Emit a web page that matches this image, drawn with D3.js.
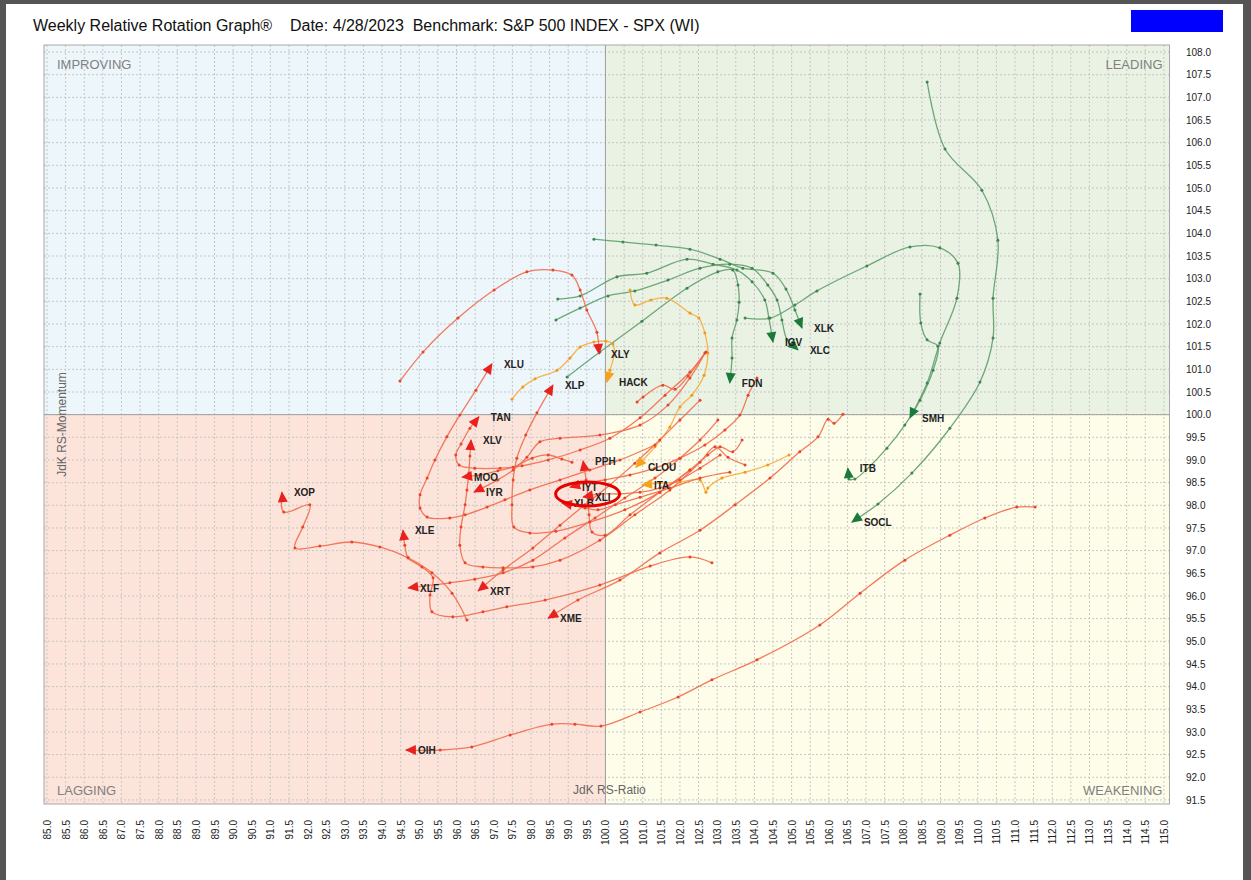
<!DOCTYPE html>
<html>
<head>
<meta charset="utf-8">
<script src="https://cdn.jsdelivr.net/npm/d3@7"></script>
<style>
  body { margin: 0; background: #fff; }
  svg { display: block; font-family: "Liberation Sans", Arial, sans-serif; }
</style>
</head>
<body>
<svg id="chart" width="1251" height="880"></svg>
<script>
// weekly tails as [JdK RS-Ratio, JdK RS-Momentum], oldest first, last point = current week
const XLK = [[99.69,103.87],[100.47,103.81],[101.36,103.74],[102.27,103.65],[103.08,103.43],[103.69,103.23],[104.50,103.12],[104.85,102.77],[105.09,102.31],[105.28,101.91]];
const IGV = [[98.72,102.55],[99.32,102.62],[100.31,103.04],[101.11,103.12],[102.19,103.43],[102.89,103.32],[103.53,103.19],[103.94,102.93],[104.28,102.53],[104.39,102.13],[104.50,101.60]];
const XLC = [[98.67,102.09],[99.32,102.35],[100.07,102.62],[100.79,102.73],[101.68,102.97],[102.54,103.23],[103.34,103.32],[103.94,103.23],[104.36,102.86],[104.61,102.53],[104.74,102.09],[104.88,101.65],[105.17,101.43]];
const FDN = [[98.97,100.83],[99.85,101.38],[100.98,102.06],[102.19,102.79],[103.02,103.15],[103.42,103.19],[103.56,102.86],[103.59,102.48],[103.53,102.09],[103.40,101.69],[103.40,101.25],[103.34,100.70]];
const SMH = [[103.75,102.13],[104.42,102.13],[105.09,102.42],[105.68,102.73],[107.02,103.28],[108.18,103.70],[108.98,103.68],[109.47,103.34],[109.44,102.57],[108.98,101.58],[108.64,100.70],[108.18,99.93]];
const ITB = [[108.45,102.66],[108.47,102.02],[108.64,101.65],[108.93,101.51],[108.80,100.98],[108.45,100.32],[108.04,99.77],[107.56,99.26],[107.00,98.78],[106.70,98.58],[106.54,98.58],[106.51,98.82]];
const SOCL = [[108.64,107.34],[109.12,105.86],[110.11,104.95],[110.54,103.85],[110.41,102.57],[110.41,101.69],[110.06,100.72],[109.25,99.70],[108.23,98.71],[107.32,98.03],[106.62,97.63]];

const HACK = [[97.49,100.34],[97.78,100.61],[98.11,100.79],[98.70,100.98],[99.05,101.25],[99.32,101.49],[99.69,101.60],[100.01,101.62],[100.20,101.56],[100.23,101.31],[100.12,100.98],[100.04,100.72]];
const CLOU = [[100.66,102.75],[100.79,102.42],[101.22,102.53],[101.65,102.57],[102.27,102.24],[102.51,102.13],[102.67,101.80],[102.75,101.36],[102.65,100.87],[102.32,100.43],[102.00,100.17],[101.73,99.73],[101.33,99.29],[100.82,98.84]];
const ITA = [[104.93,99.11],[104.36,98.89],[103.75,98.73],[103.13,98.60],[102.75,98.38],[102.70,98.29],[102.54,98.56],[102.00,98.51],[101.46,98.49],[100.98,98.45]];

const XLY = [[94.48,100.74],[95.10,101.38],[96.04,102.13],[97.01,102.75],[97.89,103.15],[98.59,103.19],[99.10,103.08],[99.32,102.75],[99.50,102.31],[99.77,101.82],[99.83,101.34]];
const XLU = [[101.33,99.33],[100.39,99.00],[99.58,98.78],[98.78,98.56],[97.97,98.34],[97.30,98.12],[96.82,97.96],[96.23,97.79],[95.82,97.72],[95.21,97.74],[95.02,97.94],[95.02,98.23],[95.21,98.60],[95.42,99.00],[95.74,99.51],[96.09,99.99],[96.52,100.54],[96.95,101.12]];
const XLP = [[102.27,98.78],[101.46,98.29],[100.52,97.90],[99.58,97.63],[98.67,97.43],[97.97,97.39],[97.54,97.52],[97.49,98.01],[97.52,98.56],[97.62,99.04],[97.86,99.55],[98.16,100.04],[98.59,100.65]];
const TAN = [[102.70,101.38],[102.27,100.94],[101.60,100.43],[100.93,99.93],[100.12,99.48],[99.32,99.22],[98.46,99.00],[97.76,98.87],[97.17,98.82],[96.49,98.82],[96.07,98.89],[95.98,99.11],[96.12,99.35],[96.36,99.70],[96.60,99.95]];
const XLV = [[103.75,98.89],[103.29,99.06],[102.94,99.29],[102.54,98.95],[101.73,98.34],[100.79,97.79],[99.85,97.23],[98.78,96.79],[98.05,96.64],[97.25,96.62],[96.71,96.64],[96.23,96.73],[96.09,97.12],[96.12,97.52],[96.23,98.01],[96.28,98.34],[96.33,98.71],[96.36,99.09],[96.39,99.44]];
const MOO = [[99.10,98.95],[98.83,99.02],[98.46,99.11],[98.03,99.04],[97.52,98.84],[97.11,98.76],[96.63,98.67],[96.15,98.62]];
const IYR = [[100.85,100.28],[101.01,100.39],[101.54,100.65],[101.87,100.56],[102.22,100.85],[102.67,101.36],[102.27,100.81],[101.68,100.21],[100.93,99.77],[99.85,99.55],[98.78,99.48],[98.24,99.40],[97.89,99.06],[97.52,98.78],[97.11,98.56],[96.47,98.29]];
const PPH = [[103.67,99.44],[103.42,99.18],[103.08,99.29],[102.75,99.11],[102.27,98.78],[101.46,98.29],[100.66,97.79],[99.99,97.34],[99.64,97.41],[99.56,97.79],[99.53,98.18],[99.48,98.56],[99.40,98.98]];
const IYT = [[104.07,100.81],[103.83,100.43],[103.61,99.99],[103.21,99.66],[102.67,99.33],[102.00,99.04],[101.33,98.82],[100.66,98.67],[99.99,98.56],[99.45,98.49],[99.05,98.40]];
const XLB = [[103.34,98.73],[102.54,98.60],[101.73,98.38],[100.93,98.18],[100.26,98.01],[99.80,97.90],[99.45,97.94],[99.10,98.01],[98.83,98.05]];
const XLI = [[103.08,99.11],[102.54,98.82],[102.00,98.56],[101.46,98.38],[100.93,98.29],[100.39,98.25],[99.85,98.25],[99.40,98.18]];
const XRT = [[102.54,100.32],[102.00,99.88],[101.46,99.44],[100.79,98.93],[100.12,98.45],[99.45,98.01],[98.78,97.56],[98.05,97.06],[97.25,96.57],[96.58,96.11]];
const XLF = [[103.02,99.88],[102.54,99.44],[102.00,99.04],[101.33,98.60],[100.52,98.16],[99.72,97.72],[98.91,97.28],[98.05,96.79],[97.25,96.51],[96.49,96.37],[95.82,96.29],[94.70,96.18]];
const XME = [[106.38,100.01],[106.14,99.81],[105.98,99.90],[105.71,99.51],[105.22,99.18],[104.42,98.60],[103.48,98.01],[102.54,97.45],[101.46,96.95],[100.39,96.35],[99.26,95.91],[98.46,95.51]];
const XLE = [[102.86,96.73],[102.27,96.86],[101.20,96.66],[99.85,96.24],[98.38,95.91],[97.35,95.76],[96.71,95.65],[95.90,95.54],[95.34,95.65],[95.29,96.02],[95.37,96.40],[95.07,96.64],[94.70,96.84],[94.61,97.12],[94.56,97.45]];
const XOP = [[96.28,95.47],[95.88,96.06],[95.34,96.51],[94.70,96.84],[93.94,97.08],[93.19,97.19],[92.33,97.10],[91.66,97.06],[91.87,97.52],[92.06,98.01],[91.36,97.85],[91.31,98.29]];
const OIH = [[111.54,97.96],[111.05,97.96],[110.19,97.72],[109.25,97.34],[108.04,96.79],[106.84,96.06],[105.76,95.36],[104.07,94.59],[102.86,94.15],[101.95,93.77],[100.93,93.44],[99.88,93.13],[99.18,93.17],[98.56,93.17],[97.44,92.93],[96.41,92.67],[95.56,92.60],[94.64,92.60]];

const greenNames = ["XLK", "IGV", "XLC", "FDN", "SMH", "ITB", "SOCL"];
const orangeNames = ["HACK", "CLOU", "ITA"];
const redNames = ["XLY", "XLU", "XLP", "TAN", "XLV", "MOO", "IYR", "PPH", "IYT", "XLB", "XLI", "XRT", "XLF", "XME", "XLE", "XOP", "OIH"];

// axis extents and ticks
const ratioDomain = [84.92, 115.15];
const momentumDomain = [91.41, 108.155];
const ratioTicks = d3.range(85, 115.001, 0.5);
const momentumTicks = d3.range(91.5, 108.001, 0.5);
const circled = [99.52, 98.25]; // highlight ellipse around IYT / XLI / XLB

const tails = { XLK, IGV, XLC, FDN, SMH, ITB, SOCL, HACK, CLOU, ITA,
  XLY, XLU, XLP, TAN, XLV, MOO, IYR, PPH, IYT, XLB, XLI, XRT, XLF, XME, XLE, XOP, OIH };

const palette = {
  green:  { line: "#5f9f6c", dot: "#3f8650", head: "#1b7a3a" },
  orange: { line: "#f6ad3c", dot: "#f09a1a", head: "#f7a11c" },
  red:    { line: "#f26b4c", dot: "#e8452e", head: "#e8201e" }
};

const series = []
  .concat(greenNames.map(n => ({ name: n, tone: "green" })))
  .concat(orangeNames.map(n => ({ name: n, tone: "orange" })))
  .concat(redNames.map(n => ({ name: n, tone: "red" })))
  .map(s => ({ ...s, pts: tails[s.name] }));

const svg = d3.select("#chart");

// page frame
svg.append("rect").attr("width", 1251).attr("height", 880).attr("fill", "#555");
svg.append("rect").attr("x", 6).attr("y", 4).attr("width", 1237).attr("height", 876).attr("fill", "#fff");

svg.append("text")
  .attr("x", 33).attr("y", 31)
  .attr("font-size", 16).attr("fill", "#111")
  .attr("xml:space", "preserve")
  .text("Weekly Relative Rotation Graph\u00AE    Date: 4/28/2023  Benchmark: S&P 500 INDEX - SPX (WI)");

svg.append("rect").attr("x", 1131).attr("y", 10).attr("width", 92).attr("height", 22).attr("fill", "#0000ff");

const x = d3.scaleLinear().domain(ratioDomain).range([44, 1169.5]);
const y = d3.scaleLinear().domain(momentumDomain).range([804, 45]);

const plot = svg.append("g");
const x0 = x(ratioDomain[0]), x1 = x(ratioDomain[1]);
const y0 = y(momentumDomain[1]), y1 = y(momentumDomain[0]);
const xm = x(100), ym = y(100);

// quadrants
const quads = [
  { x: x0, y: y0, w: xm - x0, h: ym - y0, fill: "#edf6fb" },
  { x: xm, y: y0, w: x1 - xm, h: ym - y0, fill: "#eaf2e4" },
  { x: x0, y: ym, w: xm - x0, h: y1 - ym, fill: "#fce4da" },
  { x: xm, y: ym, w: x1 - xm, h: y1 - ym, fill: "#fefde9" }
];
plot.selectAll("rect.quad").data(quads).join("rect")
  .attr("class", "quad")
  .attr("x", d => d.x).attr("y", d => d.y).attr("width", d => d.w).attr("height", d => d.h)
  .attr("fill", d => d.fill);

// dashed grid
plot.selectAll("line.vg").data(ratioTicks).join("line")
  .attr("class", "vg")
  .attr("x1", d => x(d)).attr("x2", d => x(d)).attr("y1", y0).attr("y2", y1)
  .attr("stroke", "#c6c6c6").attr("stroke-dasharray", "2,2");
plot.selectAll("line.hg").data(momentumTicks).join("line")
  .attr("class", "hg")
  .attr("y1", d => y(d)).attr("y2", d => y(d)).attr("x1", x0).attr("x2", x1)
  .attr("stroke", "#c6c6c6").attr("stroke-dasharray", "2,2");

plot.append("line").attr("x1", xm).attr("x2", xm).attr("y1", y0).attr("y2", y1).attr("stroke", "#a0a0a0");
plot.append("line").attr("x1", x0).attr("x2", x1).attr("y1", ym).attr("y2", ym).attr("stroke", "#a0a0a0");
plot.append("rect").attr("x", x0).attr("y", y0).attr("width", x1 - x0).attr("height", y1 - y0)
  .attr("fill", "none").attr("stroke", "#a8a8a8");

// quadrant names and axis titles
const qText = [
  { t: "IMPROVING", x: x0 + 13, y: y0 + 24, a: "start" },
  { t: "LEADING", x: x1 - 7, y: y0 + 24, a: "end" },
  { t: "LAGGING", x: x0 + 13, y: y1 - 9, a: "start" },
  { t: "WEAKENING", x: x1 - 7, y: y1 - 9, a: "end" }
];
plot.selectAll("text.q").data(qText).join("text")
  .attr("class", "q")
  .attr("x", d => d.x).attr("y", d => d.y).attr("text-anchor", d => d.a)
  .attr("font-size", 13).attr("fill", "#808080")
  .text(d => d.t);

plot.append("text").attr("x", xm + 4).attr("y", y1 - 10).attr("text-anchor", "middle")
  .attr("font-size", 12).attr("fill", "#666").text("JdK RS-Ratio");
plot.append("text").attr("transform", `translate(${x0 + 22},${(y0 + y1) / 2}) rotate(-90)`)
  .attr("text-anchor", "middle").attr("font-size", 12).attr("fill", "#666").text("JdK RS-Momentum");

// axes
const yAxis = svg.append("g").attr("transform", "translate(1186,0)")
  .call(d3.axisRight(y).tickValues(momentumTicks).tickFormat(d3.format(".1f")).tickSize(0).tickPadding(0));
yAxis.select(".domain").remove();
yAxis.selectAll("text").attr("font-size", 10).attr("fill", "#222").attr("font-family", null);

const xAxis = svg.append("g").attr("transform", "translate(0,820)")
  .call(d3.axisBottom(x).tickValues(ratioTicks).tickFormat(d3.format(".1f")).tickSize(0));
xAxis.select(".domain").remove();
xAxis.selectAll("text")
  .attr("transform", "rotate(-90)").attr("x", 0).attr("y", 0).attr("dy", "0.35em")
  .attr("text-anchor", "end").attr("font-size", 10).attr("fill", "#222").attr("font-family", null);

// tails
const line = d3.line().x(d => x(d[0])).y(d => y(d[1])).curve(d3.curveCatmullRom.alpha(0.5));
const trails = svg.append("g");
trails.selectAll("path").data(series).join("path")
  .attr("d", d => line(d.pts))
  .attr("fill", "none")
  .attr("stroke", d => palette[d.tone].line)
  .attr("stroke-width", 1.3)
  .attr("stroke-opacity", 0.9);

series.forEach(s => {
  trails.selectAll(null).data(s.pts.slice(0, -1)).join("circle")
    .attr("cx", d => x(d[0])).attr("cy", d => y(d[1])).attr("r", 1.5)
    .attr("fill", palette[s.tone].dot);
});

// arrow heads
const heads = svg.append("g");
heads.selectAll("path").data(series).join("path")
  .attr("d", "M1,0 L-10,-5 L-10,5 Z")
  .attr("fill", d => palette[d.tone].head)
  .attr("transform", d => {
    const n = d.pts.length;
    const a = d.pts[n - 2], b = d.pts[n - 1];
    const ang = Math.atan2(y(b[1]) - y(a[1]), x(b[0]) - x(a[0])) * 180 / Math.PI;
    return `translate(${x(b[0])},${y(b[1])}) rotate(${ang})`;
  });

// ticker labels
svg.append("g").selectAll("text").data(series).join("text")
  .attr("x", d => x(d.pts[d.pts.length - 1][0]) + 12)
  .attr("y", d => y(d.pts[d.pts.length - 1][1]) + 4)
  .attr("font-size", 10).attr("font-weight", "bold").attr("fill", "#222")
  .text(d => d.name);

// highlight
svg.append("ellipse")
  .attr("cx", x(circled[0])).attr("cy", y(circled[1]))
  .attr("rx", 32).attr("ry", 12)
  .attr("fill", "none").attr("stroke", "#e60000").attr("stroke-width", 3);
</script>
</body>
</html>
